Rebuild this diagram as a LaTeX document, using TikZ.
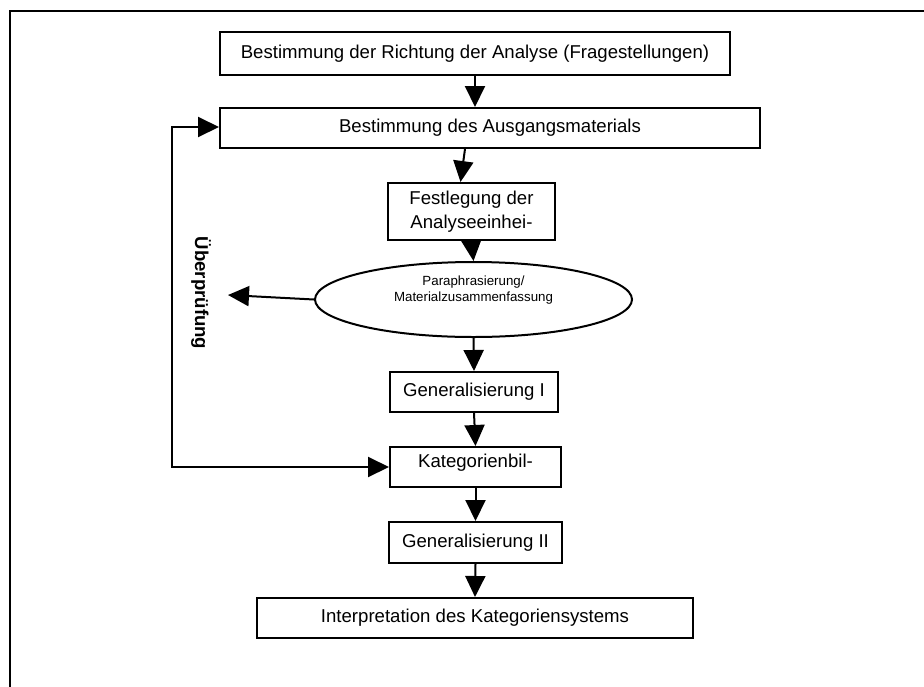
\documentclass[tikz,border=0pt]{standalone}
\usepackage{fontspec}
\setmainfont{Liberation Sans}
\usetikzlibrary{arrows.meta,shapes.geometric}
\begin{document}
\begin{tikzpicture}[x=1pt,y=-1pt,
  boxx/.style={draw,line width=2pt,minimum height=40pt,inner sep=0pt,font=\fontsize{18.6}{24}\selectfont,align=center},
  arr/.style={line width=2pt,-{Triangle[length=21pt,width=20pt]}},
  barr/.style={line width=2pt,{Triangle[length=21pt,width=20pt]}-{Triangle[length=21pt,width=20pt]}},
  every node/.style={text=black}]
\useasboundingbox (0,0) rectangle (924,686);
\draw[line width=2.4pt] (10,690) -- (10,11) -- (930,11);
\node[boxx,minimum width=510pt,minimum height=43pt] (b1) at (475,53.5) {Bestimmung der Richtung der Analyse (Fragestellungen)};
\node[boxx,minimum width=540pt] (b2) at (490,128) {Bestimmung des Ausgangsmaterials};
\node[boxx,minimum width=167pt,minimum height=57pt] (b3) at (471.5,211.5) {Festlegung der\\Analyseeinhei-};
\node[draw,ellipse,line width=2pt,minimum width=317pt,minimum height=75pt,inner sep=0pt] (ell) at (473.5,299.5) {};
\node[align=center,inner sep=0pt,font=\fontsize{13.3}{16}\selectfont] (elltxt) at (473.5,290) {Paraphrasierung/\\Materialzusammenfassung};
\node[boxx,minimum width=168pt] (g1) at (474,392) {Generalisierung I};
\node[boxx,minimum width=171pt,text depth=12pt] (kat) at (475.5,467) {Kategorienbil-};
\node[boxx,minimum width=173pt,minimum height=41pt] (g2) at (475.5,542.5) {Generalisierung II};
\node[boxx,minimum width=436pt] (ip) at (475,618) {Interpretation des Kategoriensystems};
\node[rotate=-90,font=\bfseries\fontsize{18.6}{20}\selectfont] (ub) at (201,293) {Überprüfung};
\coordinate (fb) at (228,295);
\coordinate (lt) at (172,127);
\coordinate (lb) at (172,467);
\draw[arr] (b1.south) -- (b2.north -| b1.south);
\draw[arr] ([xshift=-25pt]b2.south) -- ([xshift=-11pt]b3.north);
\draw[arr] (b3.south) -- (ell.north);
\draw[arr] (ell.west) -- (fb);
\draw[arr] (ell.south) -- (g1.north);
\draw[arr] (g1.south) -- (kat.north);
\draw[arr] (kat.south) -- (g2.north);
\draw[arr] (g2.south) -- (ip.north);
\draw[barr] (kat.west) -- (lb) -- (lt) -- (b2.west |- lt);
\end{tikzpicture}
\end{document}
